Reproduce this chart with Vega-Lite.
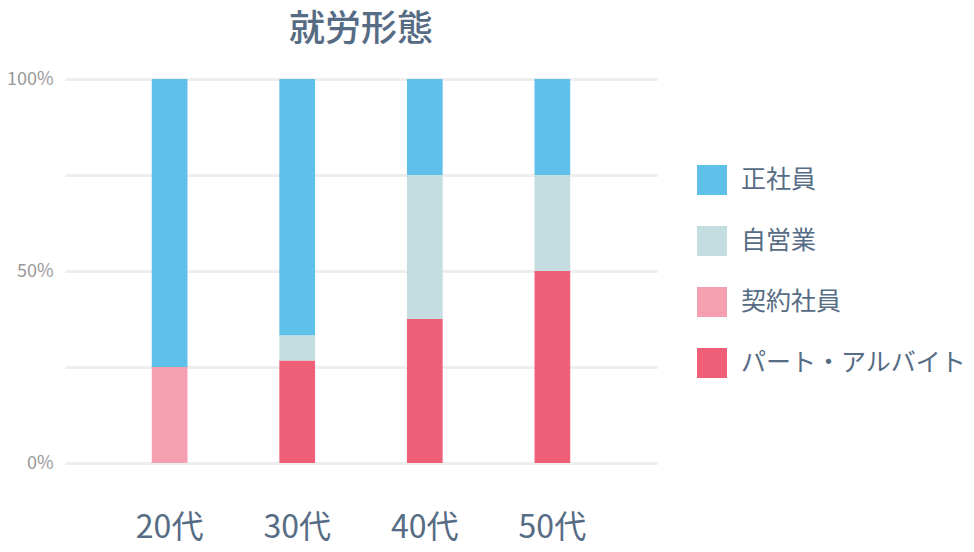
{
  "$schema": "https://vega.github.io/schema/vega-lite/v6.json",
  "autosize": "none",
  "width": 592,
  "height": 384,
  "padding": {"left": 65, "top": 79, "right": 317, "bottom": 89},
  "background": "white",
  "title": {
    "text": "就労形態",
    "font": "Noto Sans CJK JP",
    "fontSize": 36,
    "fontWeight": 500,
    "color": "#566C84",
    "anchor": "middle",
    "offset": 21
  },
  "data": {
    "values": [
      {"age": "20代", "type": "契約社員", "value": 25, "rank": 1},
      {"age": "20代", "type": "正社員", "value": 75, "rank": 3},
      {"age": "30代", "type": "パート・アルバイト", "value": 26.7, "rank": 0},
      {"age": "30代", "type": "自営業", "value": 6.6, "rank": 2},
      {"age": "30代", "type": "正社員", "value": 66.7, "rank": 3},
      {"age": "40代", "type": "パート・アルバイト", "value": 37.5, "rank": 0},
      {"age": "40代", "type": "自営業", "value": 37.5, "rank": 2},
      {"age": "40代", "type": "正社員", "value": 25, "rank": 3},
      {"age": "50代", "type": "パート・アルバイト", "value": 50, "rank": 0},
      {"age": "50代", "type": "自営業", "value": 25, "rank": 2},
      {"age": "50代", "type": "正社員", "value": 25, "rank": 3}
    ]
  },
  "mark": {"type": "bar"},
  "encoding": {
    "x": {
      "field": "age",
      "type": "nominal",
      "scale": {"paddingInner": 0.72, "paddingOuter": 0.68},
      "axis": {
        "title": null,
        "labelAngle": 0,
        "labelFont": "Noto Sans CJK JP",
        "labelFontSize": 32,
        "labelColor": "#566C84",
        "labelPadding": 49,
        "ticks": false,
        "domain": false
      }
    },
    "y": {
      "field": "value",
      "type": "quantitative",
      "stack": "zero",
      "scale": {"domain": [0, 100]},
      "axis": {
        "title": null,
        "values": [0, 25, 50, 75, 100],
        "labelExpr": "datum.value % 50 == 0 ? datum.value + '%' : ''",
        "labelFont": "Noto Sans CJK JP",
        "labelFontSize": 18,
        "labelColor": "#999999",
        "labelPadding": 12,
        "ticks": false,
        "domain": false,
        "grid": true,
        "gridColor": "#EEEEEE",
        "gridWidth": 3
      }
    },
    "color": {
      "field": "type",
      "type": "nominal",
      "scale": {
        "domain": ["正社員", "自営業", "契約社員", "パート・アルバイト"],
        "range": ["#5FC0E9", "#C3DDE1", "#F5A0B0", "#EF5F78"]
      },
      "legend": {
        "title": null,
        "orient": "none",
        "legendX": 632,
        "legendY": 86,
        "symbolType": "square",
        "symbolSize": 900,
        "symbolStrokeWidth": 0,
        "symbolOpacity": 1,
        "labelFont": "Noto Sans CJK JP",
        "labelFontSize": 25,
        "labelColor": "#566C84",
        "labelOffset": 14,
        "labelLimit": 300,
        "rowPadding": 31
      }
    },
    "order": {"field": "rank", "type": "quantitative", "sort": "ascending"}
  },
  "config": {
    "view": {"stroke": null}
  }
}
